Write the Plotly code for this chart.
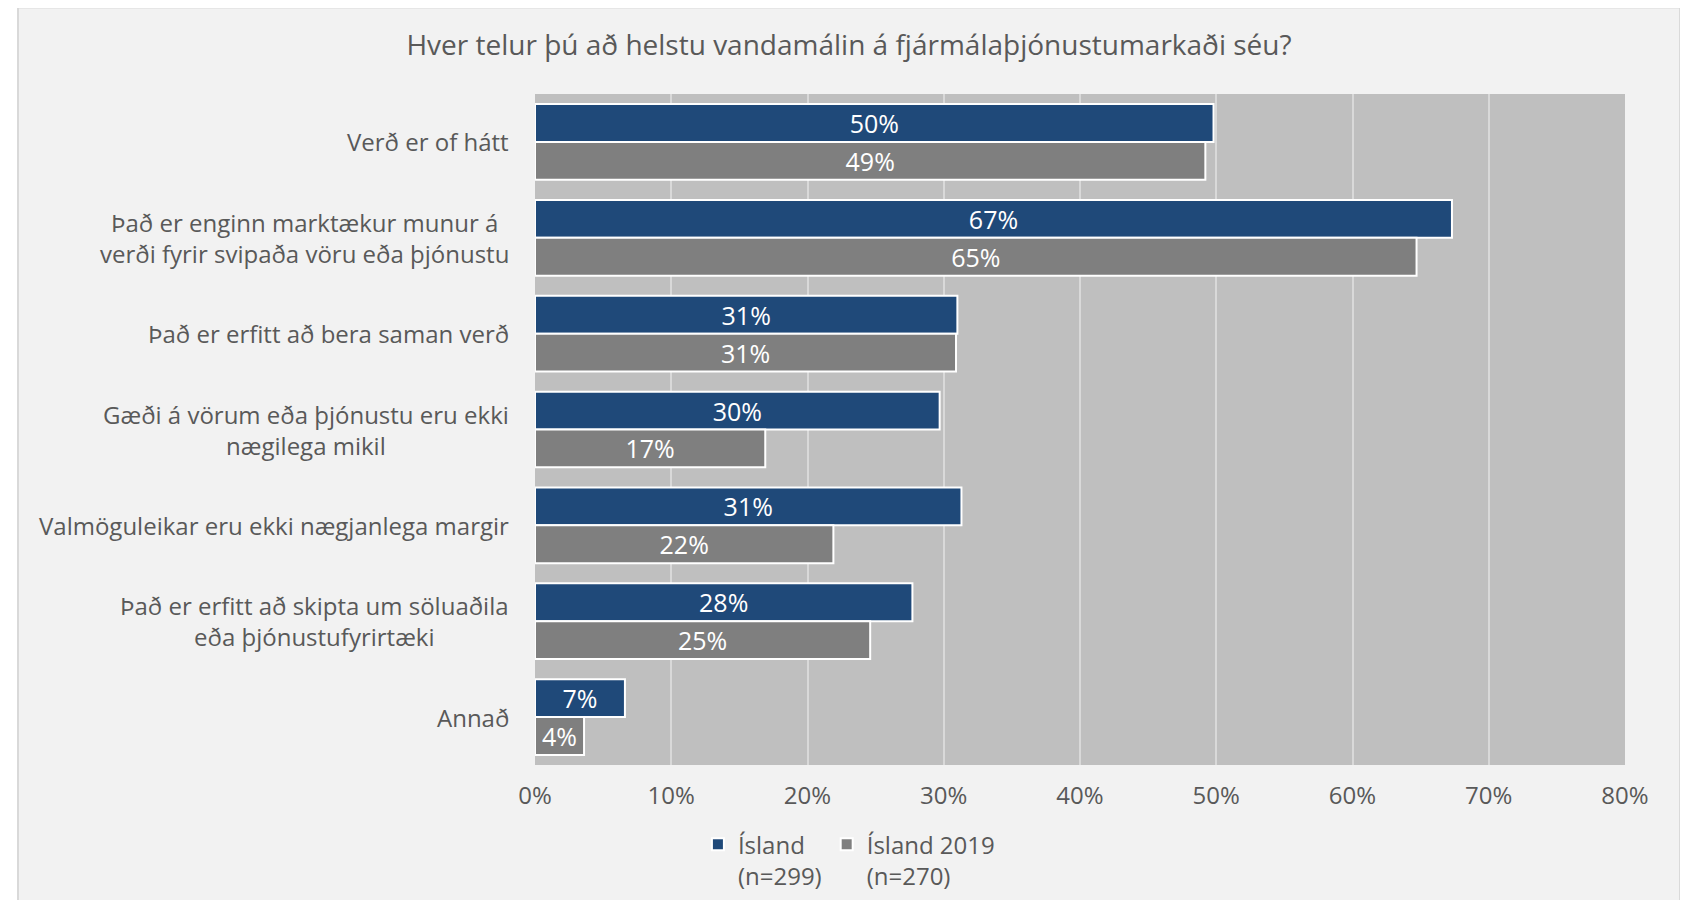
import plotly.graph_objects as go

# Data
categories = [
    "Verð er of hátt",
    "Það er enginn marktækur munur á<br>verði fyrir svipaða vöru eða þjónustu",
    "Það er erfitt að bera saman verð",
    "Gæði á vörum eða þjónustu eru ekki<br>nægilega mikil",
    "Valmöguleikar eru ekki nægjanlega margir",
    "Það er erfitt að skipta um söluaðila<br>eða þjónustufyrirtæki",
    "Annað",
]
island = [0.498, 0.673, 0.310, 0.297, 0.313, 0.277, 0.066]
island_2019 = [0.492, 0.647, 0.309, 0.169, 0.219, 0.246, 0.036]
series_names = ["Ísland<br>(n=299)", "Ísland 2019<br>(n=270)"]
x_ticks = [0, 0.1, 0.2, 0.3, 0.4, 0.5, 0.6, 0.7, 0.8]

FONT = "Open Sans"
TEXT_GREY = "#595959"
COLORS = ["#1f4979", "#7f7f7f"]

fig = go.Figure()

for values, name, color in zip([island, island_2019], series_names, COLORS):
    fig.add_trace(
        go.Bar(
            y=categories,
            x=values,
            name=name,
            orientation="h",
            marker=dict(color=color, line=dict(color="white", width=2)),
            texttemplate="%{x:.0%}",
            textposition="inside",
            insidetextanchor="middle",
            constraintext="none",
            textfont=dict(family=FONT, size=25, color="white"),
        )
    )

# Category labels as annotations so that multi-line labels are centred
for cat in categories:
    fig.add_annotation(
        x=-0.022,
        xref="paper",
        y=cat,
        yref="y",
        text=cat,
        showarrow=False,
        xanchor="right",
        align="center",
        font=dict(family=FONT, size=24, color=TEXT_GREY),
    )

# Outer frame and plot background
fig.add_shape(
    type="rect", xref="paper", yref="paper",
    x0=-0.4743, x1=1.0505, y0=-0.25, y1=1.129,
    fillcolor="#f2f2f2", line=dict(color="#d9d9d9", width=2), layer="below",
)
fig.add_shape(
    type="rect", xref="paper", yref="paper",
    x0=0, x1=1, y0=0, y1=1,
    fillcolor="#bfbfbf", line=dict(width=0), layer="below",
)

fig.update_layout(
    width=1672,
    height=892,
    margin=dict(l=527, r=55, t=86, b=135, autoexpand=False),
    paper_bgcolor="white",
    plot_bgcolor="rgba(0,0,0,0)",
    barmode="group",
    bargap=0.21,
    bargroupgap=0,
    font=dict(family=FONT, color=TEXT_GREY),
    title=dict(
        text="Hver telur þú að helstu vandamálin á fjármálaþjónustumarkaði séu?",
        x=0.503,
        xref="container",
        xanchor="center",
        y=0.9585,
        yanchor="middle",
        font=dict(family=FONT, size=28, color=TEXT_GREY),
    ),
    xaxis=dict(
        range=[0, 0.8],
        tickvals=x_ticks,
        tickformat=".0%",
        showgrid=True,
        gridcolor="#d9d9d9",
        gridwidth=2,
        zeroline=False,
        ticks="outside",
        ticklen=9,
        tickcolor="rgba(0,0,0,0)",
        tickfont=dict(family=FONT, size=24, color=TEXT_GREY),
    ),
    yaxis=dict(
        autorange="reversed",
        showticklabels=False,
        showgrid=False,
        zeroline=False,
    ),
    legend=dict(
        orientation="h",
        x=0.288,
        xanchor="center",
        y=-0.085,
        yanchor="top",
        font=dict(family=FONT, size=24, color=TEXT_GREY),
        bgcolor="rgba(0,0,0,0)",
        valign="top",
        itemwidth=30,
    ),
)

fig.write_html("out.html")
